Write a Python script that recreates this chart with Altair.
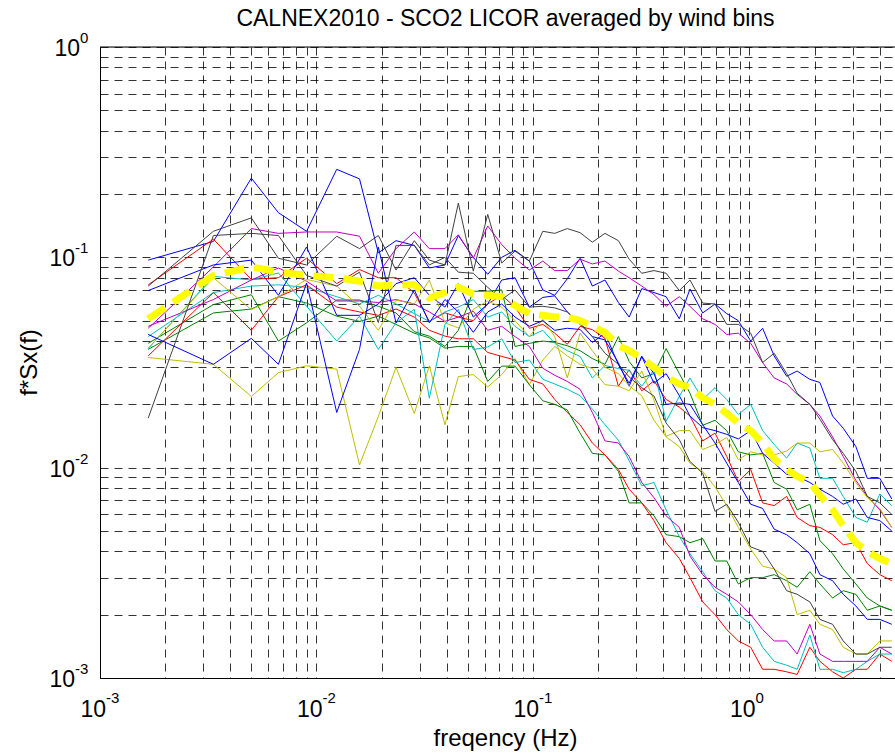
import altair as alt
import pandas as pd

# ---------------- data ----------------
freq = [0.00167, 0.00334, 0.005, 0.00667, 0.0090, 0.0124, 0.0158, 0.0193, 0.0233, 0.0283,
        0.0332, 0.0392, 0.0452, 0.053, 0.0618, 0.0717, 0.0826, 0.0962, 0.111, 0.126,
        0.144, 0.165, 0.188, 0.215, 0.248, 0.278, 0.318, 0.362, 0.412, 0.474,
        0.531, 0.608, 0.693, 0.785, 0.888, 1.013, 1.15, 1.30, 1.485, 1.66,
        1.90, 2.115, 2.42, 2.71, 3.10, 3.50, 4.00, 4.54]

b1 = [0.097, 0.119, 0.238, 0.163, 0.133, 0.262, 0.236, 0.105, 0.12, 0.114,
      0.089, 0.092, 0.127, 0.10, 0.083, 0.10, 0.108, 0.096, 0.07, 0.066,
      0.079, 0.099, 0.073, 0.078, 0.061, 0.052, 0.071, 0.068, 0.065, 0.051,
      0.0707, 0.0544, 0.06, 0.054, 0.05, 0.04, 0.046, 0.034, 0.0272, 0.0288,
      0.0263, 0.0254, 0.0176, 0.0154, 0.0126, 0.0089, 0.0089, 0.0071]
g1 = [0.039, 0.0596, 0.0664, 0.040, 0.0488, 0.0627, 0.0627, 0.0585, 0.0544, 0.0443,
      0.0422, 0.0377, 0.045, 0.069, 0.069, 0.07, 0.0377, 0.039, 0.04, 0.0394,
      0.038, 0.036, 0.033, 0.031, 0.042, 0.032, 0.0267, 0.028, 0.0368, 0.028,
      0.0226, 0.0159, 0.0168, 0.015, 0.0119, 0.0115, 0.0117, 0.0085, 0.0079, 0.0063,
      0.0067, 0.0045, 0.0039, 0.0033, 0.0028, 0.0024, 0.0022, 0.0021]
r1 = [0.074, 0.122, 0.0785, 0.08, 0.099, 0.075, 0.0875, 0.08, 0.08, 0.0677,
      0.0496, 0.0545, 0.052, 0.05, 0.06, 0.066, 0.058, 0.046, 0.048, 0.0436,
      0.0386, 0.047, 0.0453, 0.0412, 0.0244, 0.0292, 0.0232, 0.0259, 0.0211, 0.0194,
      0.0176, 0.0134, 0.0146, 0.0113, 0.0086, 0.0098, 0.0068, 0.0066, 0.0073, 0.0058,
      0.0053, 0.0052, 0.0048, 0.0043, 0.0044, 0.0035, 0.0031, 0.0029]
c1 = [0.042, 0.068, 0.073, 0.074, 0.072, 0.065, 0.06, 0.066, 0.06, 0.054,
      0.0496, 0.055, 0.058, 0.063, 0.052, 0.055, 0.047, 0.042, 0.045, 0.039,
      0.036, 0.0338, 0.0267, 0.0306, 0.0296, 0.029, 0.0244, 0.0292, 0.0166, 0.0218,
      0.0267, 0.0211, 0.024, 0.0211, 0.0179, 0.02, 0.015, 0.0129, 0.0111, 0.0131,
      0.0124, 0.0089, 0.0089, 0.0073, 0.0058, 0.0055, 0.0075, 0.0066]
m1 = [0.046, 0.09, 0.137, 0.13, 0.132, 0.132, 0.126, 0.084, 0.11, 0.132,
      0.11, 0.11, 0.128, 0.099, 0.141, 0.115, 0.099, 0.087, 0.096, 0.0865,
      0.0865, 0.098, 0.093, 0.096, 0.086, 0.08, 0.073, 0.0665, 0.0585, 0.065,
      0.0585, 0.051, 0.048, 0.043, 0.0436, 0.039, 0.0316, 0.0267, 0.025, 0.0223,
      0.02, 0.0176, 0.014, 0.0113, 0.0087, 0.0073, 0.0063, 0.0052]
y1 = [0.0334, 0.031, 0.0218, 0.0283, 0.0305, 0.0294, 0.0103, 0.0175, 0.030, 0.0181,
      0.0305, 0.016, 0.0271, 0.0277, 0.0242, 0.0277, 0.033, 0.0248, 0.0325, 0.0377,
      0.034, 0.031, 0.0296, 0.0248, 0.0244, 0.0232, 0.0288, 0.021, 0.0141, 0.015,
      0.015, 0.0122, 0.0129, 0.0139, 0.0109, 0.0119, 0.0115, 0.0115, 0.012, 0.0131,
      0.0131, 0.0119, 0.0122, 0.0105, 0.0085, 0.0072, 0.0064, 0.0052]
k1 = [0.073, 0.133, 0.154, 0.099, 0.092, 0.126, 0.11, 0.127, 0.087, 0.12,
      0.097, 0.092, 0.181, 0.086, 0.16, 0.094, 0.107, 0.096, 0.133, 0.13,
      0.137, 0.131, 0.118, 0.13, 0.12, 0.098, 0.084, 0.0865, 0.084, 0.0695,
      0.078, 0.0606, 0.06, 0.048, 0.048, 0.0436, 0.0316, 0.035, 0.028, 0.0226,
      0.02, 0.017, 0.0136, 0.0117, 0.0096, 0.0073, 0.0068, 0.006]
b2 = [0.0695, 0.092, 0.097, 0.066, 0.112, 0.053, 0.053, 0.06, 0.075, 0.08,
      0.066, 0.058, 0.075, 0.052, 0.06, 0.078, 0.08, 0.058, 0.0645, 0.0656,
      0.055, 0.0487, 0.042, 0.0405, 0.0315, 0.0244, 0.0338, 0.0252, 0.028, 0.022,
      0.0176, 0.0155, 0.015, 0.0144, 0.0137, 0.015, 0.0117, 0.0105, 0.0093, 0.0091,
      0.0085, 0.0079, 0.0073, 0.0067, 0.0071, 0.0058, 0.0056, 0.005]
g2 = [0.0365, 0.0544, 0.0568, 0.065, 0.0606, 0.0525, 0.0496, 0.0525, 0.048, 0.0436,
      0.0414, 0.037, 0.0377, 0.0377, 0.0257, 0.0304, 0.0304, 0.0248, 0.0208, 0.02,
      0.0188, 0.0146, 0.0117, 0.0115, 0.0096, 0.0068, 0.0068, 0.0059, 0.0048, 0.0047,
      0.0044, 0.0046, 0.0036, 0.0036, 0.0028, 0.003, 0.003, 0.0031, 0.0029, 0.0027,
      0.0032, 0.0028, 0.0024, 0.0026, 0.0025, 0.0021, 0.0022, 0.0021]
r2 = [0.034, 0.068, 0.045, 0.065, 0.074, 0.058, 0.055, 0.053, 0.0568, 0.052,
      0.045, 0.0422, 0.041, 0.041, 0.0353, 0.0338, 0.0325, 0.0263, 0.025, 0.0211,
      0.0183, 0.016, 0.0131, 0.0115, 0.0098, 0.0079, 0.0068, 0.0056, 0.0044, 0.0037,
      0.003, 0.0023, 0.002, 0.0017, 0.0015, 0.0014, 0.0011, 0.0011, 0.00107, 0.00104,
      0.0014, 0.0012, 0.00107, 0.001, 0.0011, 0.0011, 0.0013, 0.0012]
c2 = [0.0368, 0.0812, 0.078, 0.0843, 0.0585, 0.040, 0.0525, 0.0365, 0.0488, 0.0566,
      0.0214, 0.048, 0.0566, 0.0364, 0.0375, 0.041, 0.0316, 0.0325, 0.0263, 0.025,
      0.0236, 0.022, 0.019, 0.016, 0.0135, 0.0108, 0.0082, 0.0085, 0.0063, 0.0047,
      0.0039, 0.0032, 0.0026, 0.0024, 0.002, 0.0018, 0.0014, 0.0012, 0.00115, 0.0011,
      0.0016, 0.0011, 0.0011, 0.00106, 0.0011, 0.0012, 0.0013, 0.0013]
m2 = [0.047, 0.063, 0.078, 0.089, 0.077, 0.062, 0.062, 0.061, 0.063, 0.06,
      0.055, 0.0496, 0.052, 0.0554, 0.045, 0.047, 0.042, 0.0377, 0.0297, 0.0275,
      0.0257, 0.0236, 0.0183, 0.0134, 0.0131, 0.0113, 0.0085, 0.0072, 0.0059, 0.0052,
      0.0038, 0.0031, 0.0027, 0.0025, 0.0023, 0.002, 0.0017, 0.0015, 0.0015, 0.0013,
      0.0018, 0.0013, 0.0012, 0.0012, 0.0012, 0.0012, 0.0014, 0.0013]
y2 = [0.037, 0.08, 0.0564, 0.065, 0.0785, 0.073, 0.0585, 0.045, 0.0626, 0.06,
      0.078, 0.0488, 0.0462, 0.0566, 0.062, 0.058, 0.05, 0.042, 0.0507, 0.042,
      0.0267, 0.0436, 0.036, 0.03, 0.028, 0.0245, 0.022, 0.0168, 0.014, 0.0126,
      0.0105, 0.0096, 0.0081, 0.0066, 0.0052, 0.0041, 0.0034, 0.0033, 0.003, 0.002,
      0.0021, 0.0018, 0.0017, 0.0014, 0.0013, 0.0013, 0.0015, 0.0015]
k2 = [0.0172, 0.127, 0.13, 0.127, 0.082, 0.073, 0.085, 0.049, 0.114, 0.114,
      0.092, 0.1, 0.085, 0.084, 0.072, 0.063, 0.07, 0.058, 0.0585, 0.0575,
      0.055, 0.048, 0.042, 0.035, 0.031, 0.027, 0.024, 0.0219, 0.0163, 0.0136,
      0.0107, 0.0094, 0.0062, 0.0067, 0.0055, 0.0042, 0.004, 0.0033, 0.0026, 0.0025,
      0.0023, 0.0019, 0.0018, 0.0015, 0.0013, 0.0013, 0.0014, 0.0014]
b3 = [0.043, 0.031, 0.0412, 0.031, 0.0755, 0.0183, 0.0365, 0.112, 0.0488, 0.07,
      0.0488, 0.063, 0.055, 0.044, 0.055, 0.06, 0.052, 0.047, 0.05, 0.045,
      0.046, 0.0454, 0.0394, 0.0436, 0.0309, 0.0252, 0.0338, 0.028, 0.02, 0.0203,
      0.02, 0.016, 0.0131, 0.0105, 0.0085, 0.0067, 0.0064, 0.0051, 0.0048, 0.0044,
      0.0039, 0.0031, 0.0029, 0.0025, 0.0022, 0.0019, 0.0019, 0.0018]
mean_line = [0.051, 0.082, 0.09, 0.085, 0.082, 0.080, 0.077, 0.073, 0.074, 0.074,
             0.064, 0.068, 0.072, 0.067, 0.066, 0.065, 0.059, 0.054, 0.053, 0.052,
             0.052, 0.050, 0.047, 0.044, 0.038, 0.036, 0.033, 0.030, 0.027, 0.025,
             0.024, 0.0215, 0.020, 0.0181, 0.0163, 0.015, 0.0131, 0.011, 0.0098, 0.0091,
             0.0085, 0.0074, 0.0063, 0.0053, 0.0044, 0.0040, 0.0037, 0.0035]

series_names = ["bin01", "bin02", "bin03", "bin04", "bin05", "bin06", "bin07", "bin08",
                "bin09", "bin10", "bin11", "bin12", "bin13", "bin14", "bin15"]
series_values = [b1, g1, r1, c1, m1, y1, k1, b2, g2, r2, c2, m2, y2, k2, b3]
matlab_colors = ["#0000FF", "#008000", "#FF0000", "#00BFBF", "#BF00BF", "#BFBF00", "#404040"]
series_colors = (matlab_colors * 3)[:15]

x_tick_vals = [0.001, 0.01, 0.1, 1]
x_tick_exp = ["-3", "-2", "-1", "0"]
y_tick_vals = [1, 0.1, 0.01, 0.001]
y_tick_exp = ["0", "-1", "-2", "-3"]

title_text = "CALNEX2010 - SCO2 LICOR averaged by wind bins"
x_title = "freqency (Hz)"
y_title = "f*Sx(f)"

# ---------------- tables ----------------
rows = []
for name, vals in zip(series_names, series_values):
    for f, v in zip(freq, vals):
        rows.append({"freq": f, "val": v, "series": name})
df = pd.DataFrame(rows)
mean_df = pd.DataFrame({"freq": freq, "val": mean_line})
xlab = pd.DataFrame({"freq": x_tick_vals, "base": ["10"] * 4, "exp": x_tick_exp})
ylab = pd.DataFrame({"val": y_tick_vals, "base": ["10"] * 4, "exp": y_tick_exp})
texts = pd.DataFrame({"t": [title_text], "xt": [x_title], "yt": [y_title]})

W, H = 795, 631
FONT = "Liberation Sans"
xdom = [0.001, 4.7]
ydom = [0.001, 1.0]
xgrid = [round(m * 10.0 ** e, 6) for e in (-3, -2, -1, 0) for m in range(1, 10) if m * 10.0 ** e <= 4.7]
ygrid = [round(m * 10.0 ** e, 6) for e in (-3, -2, -1) for m in range(1, 10)] + [1.0]

xs = alt.Scale(type="log", domain=xdom, nice=False)
ys = alt.Scale(type="log", domain=ydom, nice=False)

grid_kw = dict(grid=True, gridDash=[8, 6], gridColor="#000000", gridOpacity=0.8, gridWidth=1,
               labels=False, ticks=False, domainColor="#000000", domainWidth=1, title="")

xaxis = alt.Axis(values=xgrid, **grid_kw)
yaxis = alt.Axis(values=ygrid, **grid_kw)

lines = alt.Chart(df).mark_line(strokeWidth=1, clip=True).encode(
    x=alt.X("freq:Q", scale=xs, axis=xaxis),
    y=alt.Y("val:Q", scale=ys, axis=yaxis),
    color=alt.Color("series:N", scale=alt.Scale(domain=series_names, range=series_colors), legend=None),
)

mean_chart = alt.Chart(mean_df).mark_line(color="#FFFF00", strokeWidth=7, strokeDash=[20, 10], clip=True).encode(
    x=alt.X("freq:Q", scale=xs),
    y=alt.Y("val:Q", scale=ys),
)

top_rule = alt.Chart(texts).mark_rule(color="#000000", strokeWidth=1).encode(
    x=alt.value(0), x2=alt.value(W), y=alt.value(0)
)

# tick labels: "10" with a raised exponent
xbase = alt.Chart(xlab).mark_text(align="right", baseline="alphabetic", dx=6, font=FONT, fontSize=23, color="#000").encode(
    x=alt.X("freq:Q", scale=xs), y=alt.value(H + 39), text="base:N")
xexp = alt.Chart(xlab).mark_text(align="left", baseline="alphabetic", dx=6, font=FONT, fontSize=15, color="#000").encode(
    x=alt.X("freq:Q", scale=xs), y=alt.value(H + 25), text="exp:N")

ybase_neg = alt.Chart(ylab).transform_filter("length(datum.exp) > 1").mark_text(
    align="right", baseline="alphabetic", dy=9, font=FONT, fontSize=23, color="#000").encode(
    x=alt.value(-25), y=alt.Y("val:Q", scale=ys), text="base:N")
yexp_neg = alt.Chart(ylab).transform_filter("length(datum.exp) > 1").mark_text(
    align="left", baseline="alphabetic", dy=-4, font=FONT, fontSize=15, color="#000").encode(
    x=alt.value(-25), y=alt.Y("val:Q", scale=ys), text="exp:N")
ybase_zero = alt.Chart(ylab).transform_filter("length(datum.exp) == 1").mark_text(
    align="right", baseline="alphabetic", dy=9, font=FONT, fontSize=23, color="#000").encode(
    x=alt.value(-20), y=alt.Y("val:Q", scale=ys), text="base:N")
yexp_zero = alt.Chart(ylab).transform_filter("length(datum.exp) == 1").mark_text(
    align="left", baseline="alphabetic", dy=-4, font=FONT, fontSize=15, color="#000").encode(
    x=alt.value(-20), y=alt.Y("val:Q", scale=ys), text="exp:N")

# titles
title_mark = alt.Chart(texts).mark_text(align="center", baseline="alphabetic", font=FONT, fontSize=23, color="#000").encode(
    x=alt.value(W / 2 + 8), y=alt.value(-21), text="t:N")
xtitle_mark = alt.Chart(texts).mark_text(align="center", baseline="alphabetic", font=FONT, fontSize=24, color="#000").encode(
    x=alt.value(W / 2 + 8), y=alt.value(H + 68), text="xt:N")
ytitle_mark = alt.Chart(texts).mark_text(align="center", baseline="middle", angle=270, font=FONT, fontSize=24, color="#000").encode(
    x=alt.value(-70), y=alt.value(H / 2), text="yt:N")

chart = alt.layer(
    lines, mean_chart, top_rule, xbase, xexp, ybase_neg, yexp_neg, ybase_zero, yexp_zero,
    title_mark, xtitle_mark, ytitle_mark
).properties(
    width=W, height=H,
    padding={"left": 100, "top": 47, "right": 0, "bottom": 78},
    autosize=alt.AutoSizeParams(type="none"),
).configure_view(stroke=None).configure(background="white")

chart.save("out.html", embed_options={"renderer": "svg", "actions": False})
